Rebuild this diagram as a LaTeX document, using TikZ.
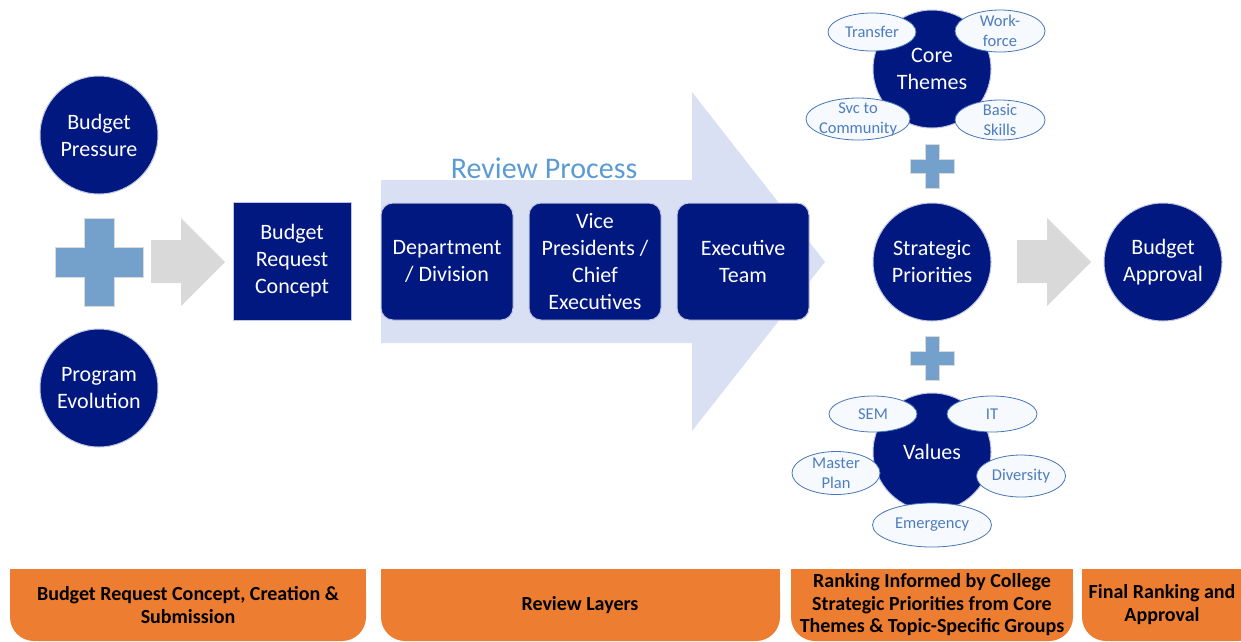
\documentclass[tikz,border=0pt]{standalone}
\usepackage{fontspec}
\setmainfont{Carlito}
\usetikzlibrary{shapes.geometric}
\definecolor{navy}{RGB}{0,24,128}
\definecolor{lavender}{RGB}{218,224,243}
\definecolor{plusblue}{RGB}{116,160,204}
\definecolor{arrowgray}{RGB}{217,217,217}
\definecolor{tagline}{RGB}{70,118,182}
\definecolor{tagtext}{RGB}{78,125,190}
\definecolor{tagfill}{RGB}{246,249,254}
\definecolor{titleblue}{RGB}{91,155,213}
\definecolor{taborange}{RGB}{237,125,49}
\tikzset{
  bubble/.style={circle, fill=navy, draw=navy!25, line width=1pt, minimum size=118, inner sep=0pt,
    text=white, align=center, font=\fontsize{22}{27}\selectfont},
  block/.style={rectangle, fill=navy, draw=navy!25, line width=1pt, minimum width=118, minimum height=118,
    inner sep=0pt, text=white, align=center, font=\fontsize{22}{27}\selectfont},
  layer/.style={block, rounded corners=12, minimum width=132, minimum height=117},
  tag/.style={ellipse, draw=tagline, fill=tagfill, line width=.8pt, inner sep=-4pt, text=tagtext,
    align=center, font=\fontsize{16.5}{20}\selectfont},
  plus/.style={fill=plusblue, draw=black!15, line width=.8pt},
  blockarrow/.style={fill=arrowgray},
  tab/.style={text=black, align=center, font=\bfseries\fontsize{20}{23}\selectfont},
}
\begin{document}
\begin{tikzpicture}[x=1pt,y=-1pt]
  \useasboundingbox (0,0) rectangle (1241,641);
  % ------ big review arrow -----------------
  \fill [lavender] (381,180) -- (692,180) -- (692,92) -- (825,262) -- (692,431) -- (692,343) -- (381,343) -- cycle;
  \node [text=titleblue, font=\fontsize{30}{34}\selectfont] (reviewtitle) at (544,168) {Review Process};
  % ------ inputs -----------------
  \node [bubble] (pressure) at (99,135) {Budget\\Pressure};
  \node [bubble] (evolution) at (99,388) {Program\\Evolution};
  \node [block] (concept) at (292,261) {Budget\\Request\\Concept};
  % ------ review layers -----------------
  \node [layer] (department) at (447,261.5) {Department\\/ Division};
  \node [layer] (vicepres) at (595,261.5) {Vice\\Presidents /\\Chief\\Executives};
  \node [layer] (execteam) at (743,261.5) {Executive\\Team};
  % ------ priorities -----------------
  \node [bubble] (corethemes) at (932,69) {Core\\Themes};
  \node [bubble] (strategic) at (932,262) {Strategic\\Priorities};
  \node [bubble] (values) at (932,452) {Values};
  \node [bubble] (approval) at (1163,262) {Budget\\Approval};
  % ------ tags round core themes -----------------
  \node [tag, minimum width=88, minimum height=38] (transfer) at (872,32) {Transfer};
  \node [tag, minimum width=90, minimum height=42] (workforce) at (1000,31) {Work-\\force};
  \node [tag, minimum width=104, minimum height=42] (community) at (858,119) {Svc to\\Community};
  \node [tag, minimum width=90, minimum height=40] (basicskills) at (1000,120) {Basic\\Skills};
  % ------ tags round values -----------------
  \node [tag, minimum width=88, minimum height=36] (sem) at (873,414) {SEM};
  \node [tag, minimum width=90, minimum height=36] (it) at (992,414) {IT};
  \node [tag, minimum width=88, minimum height=43] (masterplan) at (836,473) {Master\\Plan};
  \node [tag, minimum width=89, minimum height=42] (diversity) at (1021,476) {Diversity};
  \node [tag, minimum width=119, minimum height=44] (emergency) at (932,525) {Emergency};
  % ------ plus signs -----------------
  \foreach \cx/\cy/\a/\b in {99/262/44/15, 932/166/22/7, 932/358/22/7}
    \filldraw [plus] (\cx-\b,\cy-\a) -- (\cx+\b,\cy-\a) -- (\cx+\b,\cy-\b) -- (\cx+\a,\cy-\b)
      -- (\cx+\a,\cy+\b) -- (\cx+\b,\cy+\b) -- (\cx+\b,\cy+\a) -- (\cx-\b,\cy+\a) -- (\cx-\b,\cy+\b)
      -- (\cx-\a,\cy+\b) -- (\cx-\a,\cy-\b) -- (\cx-\b,\cy-\b) -- cycle;
  % ------ gray block arrows -----------------
  \foreach \sx in {151, 1017}
    \fill [blockarrow] (\sx,240) -- (\sx+30,240) -- (\sx+30,218) -- (\sx+74,262) -- (\sx+30,306)
      -- (\sx+30,283) -- (\sx,283) -- cycle;
  % ------ orange tabs -----------------
  \foreach \xa/\xb in {10/366, 381/780, 791/1073, 1082/1262} {
    \fill [taborange, rounded corners=24] (\xa,569) rectangle (\xb,641);
    \fill [taborange] (\xa,569) rectangle (\xb,600);
  }
  \node [tab] (tabconcept) at (188,605) {Budget Request Concept, Creation \&\\Submission};
  \node [tab] (tabreview) at (580,605) {Review Layers};
  \node [tab, font=\bfseries\fontsize{20}{22.5}\selectfont] (tabranking) at (932,605) {Ranking Informed by College\\Strategic Priorities from Core\\Themes \& Topic-Specific Groups};
  \node [tab] (tabfinal) at (1162,605) {Final Ranking and\\Approval};
\end{tikzpicture}
\end{document}
